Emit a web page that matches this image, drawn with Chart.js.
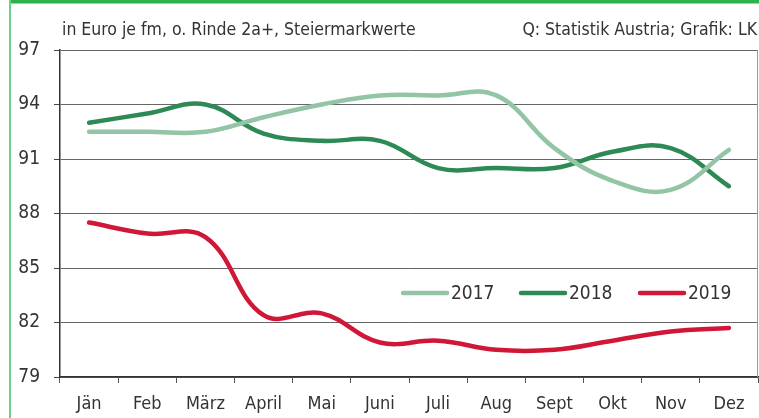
<!DOCTYPE html>
<html>
<head>
<meta charset="utf-8">
<script src="https://cdn.jsdelivr.net/npm/chart.js@4/dist/chart.umd.min.js"></script>
<style>
  html, body { margin: 0; padding: 0; background: #fff; }
  #wrap { position: relative; width: 759px; height: 418px; }
</style>
</head>
<body>
<div id="wrap"><canvas id="myChart" width="759" height="418"></canvas></div>
<script>
var months = ['Jän', 'Feb', 'März', 'April', 'Mai', 'Juni', 'Juli', 'Aug', 'Sept', 'Okt', 'Nov', 'Dez'];
var values2017 = [92.5, 92.5, 92.5, 93.3, 94.0, 94.5, 94.5, 94.5, 91.6, 89.8, 89.3, 91.5];
var values2018 = [93.0, 93.5, 94.0, 92.4, 92.0, 92.0, 90.5, 90.5, 90.5, 91.4, 91.6, 89.5];
var values2019 = [87.5, 86.9, 86.7, 82.4, 82.5, 80.9, 81.0, 80.5, 80.5, 81.0, 81.5, 81.7];
var yTicks = [79, 82, 85, 88, 91, 94, 97];
var titleText = 'in Euro je fm, o. Rinde 2a+, Steiermarkwerte';
var sourceText = 'Q: Statistik Austria; Grafik: LK';

var FONT = '"Liberation Sans Narrow", "DejaVu Sans Condensed", "Roboto", sans-serif';

function series(label, data, color) {
  return {
    label: label,
    data: data,
    borderColor: color,
    backgroundColor: color,
    borderWidth: 4.5,
    pointRadius: 0,
    tension: 0.4,
    borderCapStyle: 'round',
    fill: false
  };
}

// frame, title, source line, right border and the legend inside the plot
var decorations = {
  id: 'decorations',
  beforeDraw: function (chart) {
    var ctx = chart.ctx;
    ctx.save();
    ctx.fillStyle = '#2bb24c';
    ctx.fillRect(9, 0, chart.width - 9, 3.5);
    ctx.fillStyle = '#6fcf86';
    ctx.fillRect(9, 0, 2, chart.height);
    ctx.restore();
  },
  afterDraw: function (chart) {
    var ctx = chart.ctx;
    var area = chart.chartArea;
    ctx.save();
    ctx.fillStyle = '#333';
    ctx.font = '17.5px ' + FONT;
    ctx.textBaseline = 'middle';
    ctx.textAlign = 'left';
    ctx.fillText(titleText, 62, 30);
    ctx.textAlign = 'right';
    ctx.fillText(sourceText, 757, 30);

    ctx.strokeStyle = '#999';
    ctx.lineWidth = 1;
    ctx.beginPath();
    ctx.moveTo(area.right - 0.5, area.top);
    ctx.lineTo(area.right - 0.5, area.bottom);
    ctx.stroke();

    var legendX = [401, 519, 638];
    var y = 293;
    chart.data.datasets.forEach(function (ds, i) {
      var x = legendX[i];
      ctx.strokeStyle = ds.borderColor;
      ctx.lineWidth = 4.5;
      ctx.lineCap = 'round';
      ctx.beginPath();
      ctx.moveTo(x + 2, y);
      ctx.lineTo(x + 46, y);
      ctx.stroke();
      ctx.fillStyle = '#333';
      ctx.textAlign = 'left';
      ctx.font = '19px ' + FONT;
      ctx.fillText(ds.label, x + 50, y + 1);
    });
    ctx.restore();
  }
};

var chart = new Chart(document.getElementById('myChart').getContext('2d'), {
  type: 'line',
  data: {
    labels: months,
    datasets: [
      series('2017', values2017, '#93c4a5'),
      series('2018', values2018, '#2e8a55'),
      series('2019', values2019, '#d11737')
    ]
  },
  options: {
    responsive: false,
    animation: false,
    layout: { padding: { top: 50, right: 1, bottom: 0, left: 0 } },
    plugins: { legend: { display: false }, tooltip: { enabled: false } },
    scales: {
      x: {
        offset: true,
        grid: {
          offset: true,
          drawOnChartArea: false,
          tickLength: 6,
          color: '#555',
          tickColor: '#555'
        },
        border: { color: '#333', width: 1.5 },
        ticks: {
          color: '#333',
          font: { family: FONT, size: 18 },
          maxRotation: 0,
          padding: 11
        },
        afterFit: function (scale) { scale.height = 41; }
      },
      y: {
        min: 79,
        max: 97,
        afterBuildTicks: function (scale) {
          scale.ticks = yTicks.map(function (v) { return { value: v }; });
        },
        grid: {
          color: '#666',
          lineWidth: 1,
          tickLength: 6,
          tickColor: '#444'
        },
        border: { color: '#333', width: 1.5 },
        ticks: {
          color: '#333',
          font: { family: FONT, size: 19 },
          padding: 14
        },
        afterFit: function (scale) { scale.width = 60; }
      }
    }
  },
  plugins: [decorations]
});
</script>
</body>
</html>
